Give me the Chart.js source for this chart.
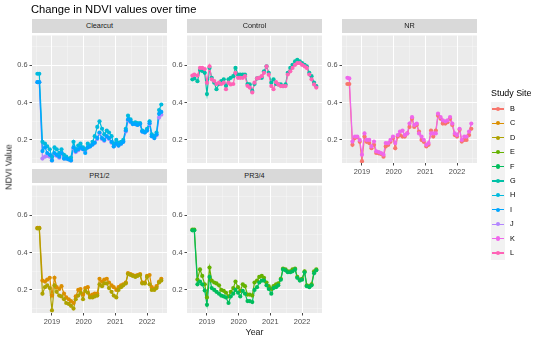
<!DOCTYPE html>
<html><head><meta charset="utf-8">
<script src="https://cdn.jsdelivr.net/npm/chart.js@4"></script>
<style>
html,body{margin:0;padding:0;background:#fff;}
body{width:540px;height:341px;position:relative;overflow:hidden;font-family:"Liberation Sans",Arial,sans-serif;}
canvas{position:absolute;}
.strip{position:absolute;background:#D9D9D9;color:#1A1A1A;font-size:7.3px;text-align:center;z-index:2;}
.txt{position:absolute;white-space:nowrap;line-height:1;z-index:3;}
.key{position:absolute;background:#F2F2F2;}
</style></head><body>
<div class="txt" style="left:31px;top:4px;font-size:11.2px;color:#000;">Change in NDVI values over time</div>
<div class="txt" style="left:9px;top:167px;font-size:8.9px;color:#1a1a1a;transform:translate(-50%,-50%) rotate(-90deg);">NDVI Value</div>
<div class="txt" style="left:254.5px;top:328px;font-size:8.9px;color:#1a1a1a;transform:translateX(-50%);">Year</div>
<script>
// ---- data ----
const sites = ['B','C','D','E','F','G','H','I','J','K','L'];
const siteColors = ['#F8766D','#DB8E00','#AEA200','#64B200','#00BD5C','#00C1A7','#00BADE','#00A6FF','#B385FF','#EF67EB','#FF63B6'];
const panelNames = ['Clearcut','Control','NR','PR1/2','PR3/4'];
const panelSites = [['J','H','I'],['G','L'],['B','K'],['C','D'],['E','F']];
const xTickLabels = [2019,2020,2021,2022];
const yTickLabels = [0.2,0.4,0.6];
const xGridValues = [2018.5,2019,2019.5,2020,2020.5,2021,2021.5,2022,2022.5];
const yGridValues = [0.1,0.2,0.3,0.4,0.5,0.6,0.7];

const dates = [2018.54,2018.60,2018.70,2018.78,2018.85,2018.93,2019.00,2019.08,2019.15,2019.23,2019.30,2019.38,2019.45,2019.53,2019.60,2019.68,2019.75,2019.83,2019.90,2019.98,2020.05,2020.13,2020.20,2020.28,2020.35,2020.43,2020.50,2020.58,2020.65,2020.73,2020.80,2020.88,2020.95,2021.03,2021.10,2021.18,2021.25,2021.33,2021.40,2021.48,2021.55,2021.63,2021.70,2021.78,2021.85,2021.93,2022.00,2022.08,2022.15,2022.23,2022.30,2022.38,2022.45];

const ndviB = [0.50,0.50,0.174,0.21,0.215,0.19,0.086,0.218,0.19,0.183,0.156,0.174,0.13,0.128,0.125,0.11,0.165,0.174,0.19,0.21,0.156,0.218,0.226,0.218,0.218,0.235,0.27,0.314,0.27,0.28,0.245,0.20,0.19,0.165,0.174,0.25,0.218,0.25,0.33,0.314,0.288,0.288,0.295,0.314,0.28,0.226,0.218,0.255,0.191,0.20,0.20,0.226,0.26];
const ndviC = [0.533,0.533,0.25,0.245,0.255,0.265,0.17,0.265,0.215,0.205,0.22,0.18,0.16,0.15,0.14,0.13,0.165,0.20,0.205,0.175,0.21,0.215,0.17,0.175,0.18,0.18,0.26,0.245,0.255,0.26,0.24,0.225,0.215,0.20,0.215,0.225,0.23,0.24,0.29,0.285,0.28,0.275,0.28,0.285,0.24,0.24,0.275,0.28,0.215,0.205,0.22,0.245,0.26];
const ndviD = [0.53,0.53,0.18,0.215,0.225,0.21,0.09,0.225,0.19,0.17,0.165,0.15,0.13,0.125,0.115,0.10,0.15,0.17,0.185,0.15,0.195,0.185,0.16,0.16,0.165,0.17,0.23,0.22,0.235,0.235,0.21,0.19,0.17,0.16,0.20,0.215,0.225,0.235,0.285,0.28,0.275,0.27,0.275,0.28,0.235,0.235,0.27,0.23,0.20,0.20,0.21,0.24,0.25];
const ndviE = [0.523,0.523,0.256,0.31,0.275,0.23,0.16,0.32,0.25,0.24,0.235,0.225,0.20,0.195,0.185,0.165,0.19,0.21,0.245,0.215,0.195,0.23,0.22,0.175,0.175,0.17,0.24,0.25,0.27,0.275,0.265,0.24,0.22,0.205,0.22,0.23,0.235,0.26,0.315,0.31,0.30,0.30,0.31,0.315,0.27,0.255,0.26,0.30,0.225,0.22,0.23,0.30,0.31];
const ndviF = [0.52,0.52,0.23,0.245,0.23,0.197,0.12,0.27,0.21,0.20,0.19,0.18,0.17,0.165,0.16,0.13,0.165,0.18,0.20,0.185,0.165,0.195,0.18,0.14,0.14,0.135,0.20,0.215,0.24,0.25,0.25,0.225,0.205,0.18,0.21,0.215,0.225,0.255,0.31,0.305,0.295,0.295,0.30,0.31,0.265,0.25,0.255,0.295,0.22,0.215,0.225,0.29,0.305];
const ndviG = [0.525,0.53,0.515,0.575,0.57,0.56,0.446,0.586,0.533,0.507,0.472,0.50,0.516,0.525,0.49,0.525,0.533,0.542,0.586,0.551,0.551,0.551,0.551,0.50,0.498,0.463,0.50,0.53,0.533,0.533,0.568,0.595,0.56,0.507,0.525,0.50,0.498,0.498,0.489,0.498,0.56,0.586,0.603,0.621,0.63,0.621,0.612,0.603,0.595,0.56,0.542,0.507,0.489];
const ndviH = [0.555,0.555,0.19,0.18,0.165,0.15,0.11,0.16,0.15,0.13,0.15,0.12,0.11,0.10,0.105,0.19,0.15,0.17,0.18,0.16,0.15,0.18,0.17,0.19,0.22,0.27,0.30,0.26,0.23,0.25,0.24,0.22,0.18,0.20,0.185,0.19,0.20,0.26,0.33,0.31,0.29,0.295,0.29,0.29,0.25,0.245,0.26,0.30,0.23,0.22,0.24,0.36,0.39];
const ndviI = [0.51,0.51,0.14,0.16,0.13,0.12,0.09,0.13,0.12,0.11,0.13,0.10,0.10,0.095,0.09,0.16,0.14,0.15,0.16,0.15,0.13,0.16,0.165,0.175,0.185,0.21,0.24,0.21,0.20,0.22,0.21,0.19,0.165,0.18,0.17,0.18,0.19,0.25,0.31,0.30,0.285,0.285,0.28,0.285,0.245,0.24,0.25,0.29,0.22,0.21,0.23,0.34,0.35];
const ndviJ = [0.51,0.51,0.10,0.11,0.115,0.11,0.09,0.12,0.115,0.105,0.125,0.10,0.10,0.095,0.09,0.155,0.135,0.145,0.155,0.15,0.14,0.16,0.165,0.175,0.185,0.205,0.235,0.205,0.195,0.215,0.205,0.185,0.165,0.18,0.17,0.18,0.19,0.245,0.305,0.295,0.285,0.285,0.28,0.285,0.245,0.24,0.25,0.285,0.22,0.21,0.225,0.32,0.335];
const ndviK = [0.533,0.530,0.191,0.218,0.218,0.20,0.121,0.235,0.20,0.20,0.165,0.191,0.139,0.135,0.13,0.121,0.183,0.183,0.20,0.218,0.183,0.226,0.245,0.25,0.226,0.235,0.288,0.322,0.28,0.288,0.235,0.218,0.20,0.174,0.183,0.235,0.235,0.235,0.341,0.323,0.305,0.30,0.305,0.323,0.288,0.235,0.226,0.26,0.20,0.218,0.218,0.245,0.288];
const ndviL = [0.545,0.55,0.545,0.586,0.586,0.58,0.507,0.595,0.525,0.516,0.50,0.507,0.50,0.507,0.472,0.507,0.498,0.50,0.56,0.533,0.533,0.533,0.542,0.49,0.481,0.455,0.507,0.53,0.533,0.542,0.56,0.595,0.55,0.489,0.472,0.51,0.498,0.489,0.489,0.489,0.551,0.568,0.586,0.603,0.612,0.612,0.603,0.595,0.586,0.551,0.525,0.498,0.481];

const ndviBySite = {B:ndviB,C:ndviC,D:ndviD,E:ndviE,F:ndviF,G:ndviG,H:ndviH,I:ndviI,J:ndviJ,K:ndviK,L:ndviL};

// ---- layout ----
const FONT = '"Liberation Sans", Arial, sans-serif';
const PW = 135, PH = 130, LEFTW = 32, PADR = 4, PADT = 4, BOTH = 16;
const PT_R = 2.1, LINE_W = 1.2;
const panelLayout = [
  {left:32, top:33, xlabels:false},
  {left:187, top:33, xlabels:false},
  {left:342, top:33, xlabels:true},
  {left:32, top:183, xlabels:true},
  {left:187, top:183, xlabels:true}
];

const bgPlugin = {
  id:'panelBg',
  beforeDraw(chart){
    const a = chart.chartArea, c = chart.ctx;
    c.save(); c.fillStyle = '#EBEBEB'; c.fillRect(a.left, a.top, a.right-a.left, a.bottom-a.top); c.restore();
  }
};

function near(arr, v){ return arr.some(t => Math.abs(t - v) < 1e-6); }
function colorOf(site){ return siteColors[sites.indexOf(site)]; }

panelNames.forEach((name, pi) => {
  const L = panelLayout[pi];
  const W = LEFTW + PW + PADR, H = PADT + PH + BOTH;
  const cv = document.createElement('canvas');
  cv.width = W; cv.height = H;
  cv.style.left = (L.left - LEFTW) + 'px';
  cv.style.top = (L.top - PADT) + 'px';
  cv.style.width = W + 'px'; cv.style.height = H + 'px';
  document.body.appendChild(cv);

  const s = document.createElement('div');
  s.className = 'strip';
  s.textContent = name;
  s.style.left = L.left + 'px'; s.style.top = (L.top - 14) + 'px';
  s.style.width = PW + 'px'; s.style.height = '14px'; s.style.lineHeight = '14px';
  document.body.appendChild(s);

  const datasets = [];
  panelSites[pi].forEach((site, k) => {
    const vals = ndviBySite[site];
    const pts = dates.map((d, i) => ({x: d, y: vals[i]}));
    const col = colorOf(site);
    datasets.push({label: site, data: pts, borderColor: col, borderWidth: LINE_W, pointRadius: 0, pointHoverRadius: 0, fill: false, tension: 0, order: 1000 - k});
    datasets.push({label: site, data: pts, showLine: false, pointRadius: PT_R, pointHoverRadius: PT_R, pointBackgroundColor: col, pointBorderWidth: 0, borderColor: col, order: 500 - k});
  });

  const gridCommon = (majors) => ({
    color: c => (c.tick && near(majors, c.tick.value)) ? '#FFFFFF' : 'rgba(255,255,255,0.6)',
    lineWidth: c => (c.tick && near(majors, c.tick.value)) ? 1 : 0.55,
    tickColor: c => (c.tick && near(majors, c.tick.value)) ? '#333333' : 'rgba(0,0,0,0)',
    tickWidth: 0.9,
    tickLength: 2.5
  });

  new Chart(cv, {
    type: 'line',
    data: {datasets},
    options: {
      responsive: false, animation: false, devicePixelRatio: 1,
      events: [],
      layout: {padding: {left: 0, right: PADR, top: PADT, bottom: 0}},
      plugins: {legend: {display: false}, tooltip: {enabled: false}, title: {display: false}},
      scales: {
        x: {
          type: 'linear', min: 2018.37, max: 2022.63,
          afterBuildTicks: sc => { sc.ticks = xGridValues.map(v => ({value: v})); },
          afterFit: sc => { sc.height = BOTH; },
          border: {display: false},
          grid: Object.assign(gridCommon(xTickLabels), {drawTicks: L.xlabels}),
          ticks: {display: L.xlabels, autoSkip: false, maxRotation: 0, minRotation: 0, padding: 2,
                  color: '#4D4D4D', font: {family: FONT, size: 7.4},
                  callback: v => near(xTickLabels, v) ? String(Math.round(v)) : ''}
        },
        y: {
          type: 'linear', min: 0.0763, max: 0.7605,
          afterBuildTicks: sc => { sc.ticks = yGridValues.map(v => ({value: v})); },
          afterFit: sc => { sc.width = LEFTW; },
          border: {display: false},
          grid: Object.assign(gridCommon(yTickLabels), {drawTicks: true}),
          ticks: {autoSkip: false, padding: 2, color: '#4D4D4D', font: {family: FONT, size: 7.4},
                  callback: v => near(yTickLabels, v) ? v.toFixed(1) : ''}
        }
      }
    },
    plugins: [bgPlugin]
  });
});

// ---- legend ----
const lt = document.createElement('div');
lt.className = 'txt';
lt.style.cssText += 'left:491px;top:88.5px;font-size:8.9px;color:#000;';
lt.textContent = 'Study Site';
document.body.appendChild(lt);
const KEY = 14.4, KTOP = 101.8, KLEFT = 491;
sites.forEach((site, i) => {
  const col = siteColors[i];
  const k = document.createElement('div');
  k.className = 'key';
  k.style.left = KLEFT + 'px'; k.style.top = (KTOP + i*KEY) + 'px';
  k.style.width = KEY + 'px'; k.style.height = KEY + 'px';
  const ln = document.createElement('div');
  ln.style.cssText = `position:absolute;left:1.4px;top:${KEY/2-LINE_W/2}px;width:${KEY-2.8}px;height:${LINE_W}px;background:${col};`;
  const dt = document.createElement('div');
  dt.style.cssText = `position:absolute;left:${KEY/2-PT_R}px;top:${KEY/2-PT_R}px;width:${2*PT_R}px;height:${2*PT_R}px;border-radius:50%;background:${col};`;
  k.appendChild(ln); k.appendChild(dt);
  document.body.appendChild(k);
  const t = document.createElement('div');
  t.className = 'txt';
  t.style.cssText += `left:510px;top:${KTOP + i*KEY + KEY/2}px;font-size:7.3px;color:#000;transform:translateY(-50%);`;
  t.textContent = site;
  document.body.appendChild(t);
});
</script>
</body></html>
